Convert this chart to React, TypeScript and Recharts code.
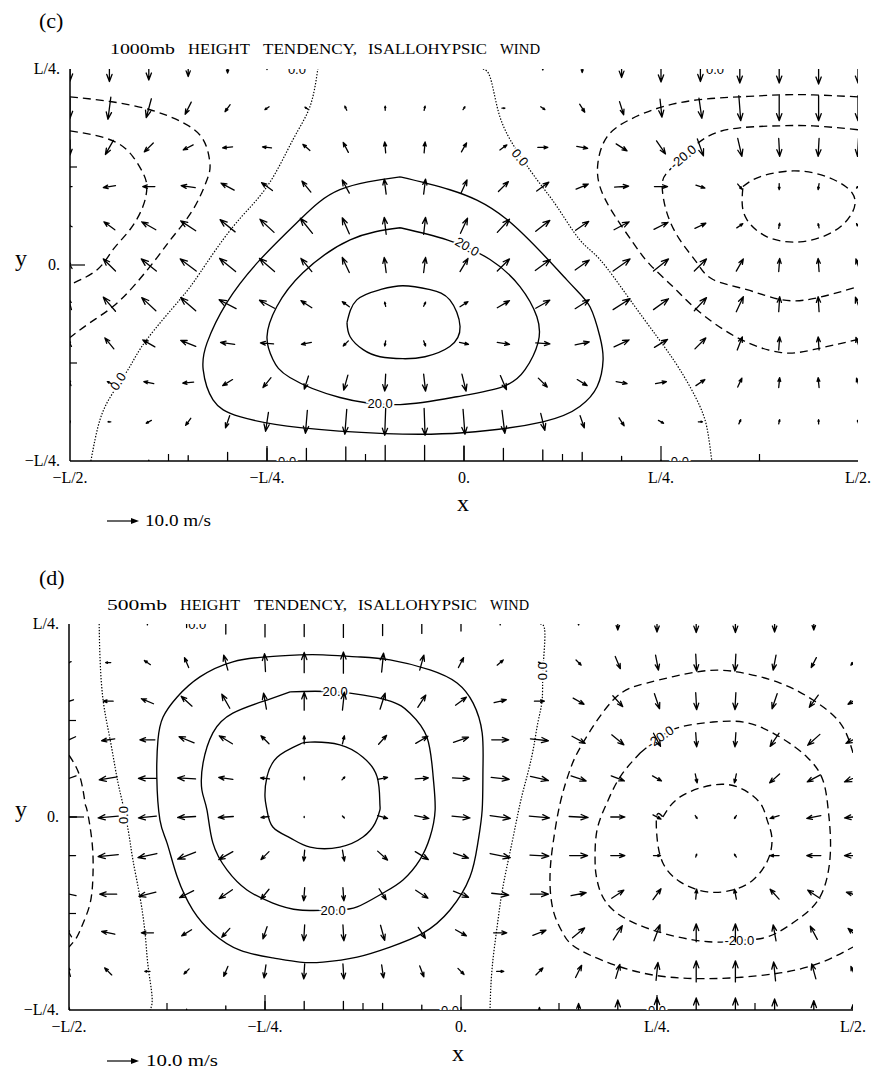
import { ScatterChart, Scatter, XAxis, YAxis } from 'recharts';

// grid in units of L/20: x from -L/2 to L/2, y from L/4 (top row) to -L/4
const X_GRID = [-10, -9, -8, -7, -6, -5, -4, -3, -2, -1, 0, 1, 2, 3, 4, 5, 6, 7, 8, 9, 10];
const Y_GRID = [5, 4, 3, 2, 1, 0, -1, -2, -3, -4, -5];

const X_TICKS = [-10, -7.5, -5, -2.5, 0, 2.5, 5, 7.5, 10];
const X_MAJOR = [-10, -5, 0, 5, 10];
const X_TICK_LABELS = ['\u2212L/2.', '\u2212L/4.', '0.', 'L/4.', 'L/2.'];
const Y_TICKS = [-5, -2.5, 0, 2.5, 5];
const Y_MAJOR = [-5, 0, 5];
const Y_TICK_LABELS = ['\u2212L/4.', '0.', 'L/4.'];

// (c) 1000mb isallohypsic wind, m/s (rows top -> bottom)
const U_C = [
  [0, 0, 0, 0, 0, 0, 0, 0, 0, 0, 0, 0, 0, 0, 0, 0, 0, 0, 0, 0, 0],
  [0, -0.9, -1.6, -1.9, -1.6, -1.3, -0.9, -0.6, 0, 0.3, 0.6, 0.9, 1.3, 1.6, 1.3, 0.6, 0.9, 0.6, 0, 0, 0],
  [0, -2.5, -2.8, -3.1, -3.1, -2.8, -2.2, -1.6, -0.3, 0.3, 1.6, 2.2, 3.1, 3.4, 3.4, 2.8, 1.9, 1.3, 0.3, -0.3, -0.3],
  [-1.3, -3.8, -3.8, -4.4, -4.1, -3.4, -2.8, -2.2, -0.6, 0.6, 1.9, 3.1, 3.8, 3.8, 4.4, 4.1, 2.8, 1.3, 0, -0.3, -0.9],
  [-1.3, -3.4, -4.4, -4.7, -4.7, -4.4, -3.8, -2.2, -0.6, 0.6, 2.2, 3.8, 4.4, 4.1, 4.7, 4.4, 3.4, 1.9, 0.3, -0.3, -0.9],
  [-1.3, -3.8, -4.7, -5.0, -5.0, -4.7, -3.4, -2.2, -0.6, 0.6, 2.5, 3.8, 4.7, 4.4, 5.3, 4.7, 3.8, 2.2, 0.3, -0.3, -1.3],
  [-0.9, -3.8, -4.4, -4.7, -5.3, -4.7, -3.4, -2.2, -0.3, 0.6, 2.5, 3.8, 4.4, 4.4, 5.3, 4.7, 3.8, 2.2, 0.3, -0.3, -1.6],
  [-0.9, -2.8, -3.8, -4.7, -4.4, -4.1, -3.1, -1.6, -0.3, 0.6, 2.8, 3.8, 4.4, 4.4, 4.7, 4.1, 3.4, 1.6, 0.3, -0.3, -1.3],
  [-0.6, -1.3, -3.1, -3.4, -3.1, -2.5, -1.3, -1.3, -0.3, 0.6, 1.3, 1.9, 2.8, 3.1, 3.4, 3.4, 2.8, 1.3, 0.3, -0.3, -0.9],
  [0, -0.9, -1.6, -1.6, -1.3, -0.9, -0.6, -0.6, -0.3, 0.3, 0.6, 0.9, 1.3, 1.3, 1.6, 1.6, 1.3, 0.6, 0.3, 0, -0.3],
  [0, 0, 0, 0, 0, 0, 0, 0, 0, 0, 0, 0, 0, 0, 0, 0, 0, 0, 0, 0, 0],
];
const V_C = [
  [-7.5, -7.8, -6.9, -4.7, -2.5, -0.3, 0, 0, 0, 0, 0, 0, -0.6, -2.2, -5.3, -8.1, -7.8, -8.8, -8.8, -9.4, -8.8],
  [-6.3, -6.9, -5.9, -3.8, -2.2, -0.9, 0.6, 1.3, 1.3, 1.3, 0.9, 0, -0.9, -2.5, -4.1, -5.6, -6.3, -7.8, -7.8, -7.8, -7.8],
  [-4.7, -4.4, -2.8, -1.6, -0.3, 0.3, 1.9, 3.1, 3.4, 3.4, 2.8, 1.6, 0, -0.6, -2.2, -4.1, -5.3, -5.6, -5.6, -5.6, -5.6],
  [0, -0.6, 0, 0.6, 2.2, 2.5, 3.4, 4.1, 4.7, 4.7, 4.1, 3.1, 2.8, 1.6, 0.3, 0, -0.9, -1.6, -1.9, -1.9, -0.9],
  [0.6, 2.5, 2.5, 3.1, 3.8, 4.1, 4.7, 5.0, 5.3, 5.3, 4.7, 4.1, 3.4, 2.8, 2.5, 2.2, 1.6, 1.3, 1.6, 1.3, 1.3],
  [2.2, 3.8, 3.8, 3.8, 4.1, 4.1, 4.1, 4.7, 4.7, 4.7, 4.1, 3.8, 3.4, 3.1, 3.8, 3.8, 3.8, 3.8, 4.1, 4.1, 3.8],
  [3.4, 4.4, 4.1, 4.1, 2.8, 2.5, 2.2, 1.6, 1.3, 1.3, 1.6, 2.2, 2.5, 2.8, 3.4, 3.4, 4.1, 4.7, 4.7, 4.7, 4.4],
  [1.9, 3.4, 2.2, 1.9, 0.6, 0.3, -0.6, -1.6, -1.6, -1.6, -0.6, -0.6, -0.3, 0.9, 2.2, 2.5, 3.4, 4.1, 4.1, 4.1, 3.8],
  [1.9, 0.6, 0.6, -0.3, -1.9, -3.1, -4.1, -4.7, -5.3, -5.3, -5.3, -4.4, -2.8, -1.9, -0.6, 0.6, 1.9, 2.8, 3.1, 3.1, 2.8],
  [0.6, 0, -0.9, -2.2, -3.8, -5.9, -7.2, -7.8, -8.4, -8.4, -7.8, -7.2, -5.3, -3.8, -2.5, -0.9, 0, 1.3, 1.3, 1.3, 0.9],
  [0, 0, -0.6, -3.4, -5.3, -7.8, -7.8, -8.8, -9.7, -9.7, -9.4, -7.8, -6.9, -5.3, -2.8, -0.6, 0, 0, 0, 0, 0],
];

// (d) 500mb isallohypsic wind, m/s
const U_D = [
  [0, 0, 0, 0, 0, 0, 0, 0, 0, 0, 0, 0, 0, 0, 0, 0, 0, 0, 0, 0, 0],
  [-1.3, -1.6, -1.9, -1.3, -1.3, -0.3, 0, 0, 0.6, 1.3, 1.6, 1.9, 0.6, 1.6, 1.6, 0.9, 0.3, -0.3, -0.9, -1.6, -1.3],
  [-2.8, -3.1, -3.8, -3.4, -2.5, -0.9, 0, 0.6, 1.6, 2.5, 3.4, 3.8, 3.1, 3.4, 3.1, 1.6, 0.3, -0.3, -1.6, -2.8, -3.1],
  [-4.1, -4.1, -4.7, -4.7, -4.1, -2.5, 0, 0.6, 2.5, 3.8, 4.7, 5.3, 5.6, 4.1, 3.8, 2.2, 0.3, -0.3, -2.8, -3.8, -4.4],
  [-4.4, -5.6, -5.6, -5.6, -4.4, -2.8, 0, 0.9, 3.1, 4.1, 5.3, 5.6, 5.6, 4.7, 4.1, 2.8, 0.6, -0.6, -3.1, -4.1, -5.3],
  [-4.7, -6.3, -5.6, -5.6, -4.7, -2.5, 0, 0.6, 3.1, 4.4, 5.6, 6.3, 6.3, 5.9, 4.4, 2.5, 0.6, -0.6, -2.8, -4.4, -5.3],
  [-4.1, -6.3, -5.9, -5.6, -4.4, -2.5, -0.3, 0.6, 3.1, 4.1, 4.7, 6.3, 5.9, 5.6, 4.4, 2.2, 0.3, -0.6, -2.8, -4.4, -5.3],
  [-4.4, -5.3, -5.3, -4.4, -4.1, -2.5, -0.3, 0.3, 2.2, 3.8, 4.7, 5.3, 5.6, 4.7, 3.8, 2.5, 0.3, -0.6, -2.8, -3.8, -4.1],
  [-1.6, -4.1, -3.8, -3.1, -2.5, -1.3, -0.3, 0.3, 1.3, 2.2, 3.4, 4.1, 4.1, 3.8, 2.8, 1.9, 0, 0, -0.9, -2.2, -3.1],
  [-0.9, -2.2, -1.6, -1.6, -1.3, -0.6, -0.3, 0.3, 0.6, 1.3, 1.9, 2.2, 2.2, 1.9, 1.3, 0.6, 0, 0, -0.6, -1.3, -1.3],
  [0, 0, 0, 0, 0, 0, 0, 0, 0, 0, 0, 0, 0, 0, 0, 0, 0, 0, 0, 0, 0],
];
const V_D = [
  [0, 0, 0.6, 2.2, 6.3, 8.1, 7.8, 8.4, 7.2, 5.9, 4.4, 0.6, 0, -0.6, -3.8, -5.0, -5.3, -5.3, -5.0, -3.8, 0],
  [-0.6, 0, 1.3, 3.1, 4.7, 5.6, 6.3, 6.6, 5.9, 4.7, 3.1, 1.6, -0.3, -1.6, -3.8, -4.7, -5.3, -5.3, -4.7, -3.1, -1.6],
  [-0.9, 0, 1.6, 3.1, 4.4, 5.0, 5.6, 5.6, 5.0, 3.8, 2.5, 0.9, 0, -1.9, -3.4, -4.7, -5.3, -5.3, -4.7, -3.8, -1.9],
  [-1.9, -0.6, 0, 1.9, 2.5, 2.5, 2.5, 2.5, 2.8, 2.2, 1.6, 0, -0.6, -2.2, -3.1, -4.1, -4.4, -4.4, -4.1, -3.4, -2.2],
  [-1.6, -0.9, 0, 0.3, 0.6, 0.3, 0.9, 0.9, 0.6, 0.3, -0.3, -0.6, -1.3, -1.6, -1.6, -1.6, -2.8, -2.8, -2.8, -2.2, -2.2],
  [0, -0.6, -0.6, -0.3, -0.3, -0.3, -0.3, -0.6, -0.9, -0.9, -0.6, -0.9, -0.6, -0.3, 0, -1.3, -0.9, -0.9, -0.9, -0.9, -0.6],
  [0, -0.6, -1.3, -2.2, -2.5, -2.5, -3.4, -3.4, -2.8, -2.5, -1.6, -1.3, -0.3, 0, 0, 0, 0.9, 0.9, 0, 0, 0],
  [0.9, 0, -1.3, -2.2, -2.8, -3.1, -4.1, -4.1, -3.4, -2.5, -1.9, -0.6, 0, 0.9, 2.5, 3.4, 3.1, 3.1, 3.1, 2.5, 1.3],
  [2.5, 0.9, 0, -1.9, -2.8, -3.8, -5.0, -5.0, -4.7, -3.4, -1.9, 0, 1.6, 3.1, 4.4, 5.0, 5.6, 5.6, 5.0, 4.1, 2.8],
  [3.1, 2.2, 0, -1.6, -3.1, -4.1, -4.7, -4.7, -4.1, -3.4, -1.9, 0, 2.2, 3.8, 4.4, 5.6, 6.6, 6.6, 5.9, 4.7, 3.1],
  [1.6, 0, 0, -0.6, -2.5, -5.3, -5.3, -5.3, -4.1, -3.1, -1.6, 0, 1.6, 4.1, 6.3, 7.8, 7.5, 7.5, 6.9, 5.9, 3.4],
];

// contour lines, [x, y] in L/20 units
const C_POS_OUTER = [[-1.62, 2.25], [-0.36, 1.92], [1.09, 1.16], [2.61, -0.38], [3.2, -1.07], [3.45, -1.83], [3.53, -2.42], [3.38, -3.1], [2.94, -3.61], [2.0, -4.0], [-0.03, -4.28], [-2.0, -4.3], [-4.16, -4.15], [-5.69, -3.87], [-6.37, -3.44], [-6.62, -2.67], [-6.52, -1.98], [-6.02, -0.96], [-5.18, 0.13], [-4.16, 1.16], [-3.15, 1.92], [-1.62, 2.25]];
const C_POS_MID = [[-1.62, 0.95], [-0.43, 0.64], [0.66, 0.14], [1.42, -0.55], [1.85, -1.32], [1.88, -1.98], [1.55, -2.67], [0.99, -3.1], [-0.18, -3.36], [-1.62, -3.56], [-3.15, -3.38], [-4.42, -2.87], [-4.85, -2.41], [-5.0, -1.83], [-4.75, -1.06], [-4.09, -0.2], [-2.89, 0.64], [-1.62, 0.95]];
const C_POS_INNER = [[-2.97, -1.47], [-2.72, -0.89], [-2.13, -0.63], [-1.55, -0.53], [-0.86, -0.63], [-0.36, -0.89], [-0.1, -1.57], [-0.36, -2.08], [-0.99, -2.34], [-1.55, -2.39], [-2.13, -2.34], [-2.56, -2.16], [-2.89, -1.83], [-2.97, -1.47]];
const C_ZERO_LEFT = [[-9.47, -5], [-9.24, -3.95], [-8.91, -3.26], [-8.48, -2.59], [-8.05, -1.9], [-7.21, -0.88], [-6.7, -0.2], [-5.86, 0.98], [-5.0, 2.0], [-4.34, 3.2], [-3.91, 4.04], [-3.71, 5]];
const C_ZERO_RIGHT = [[0.48, 5], [0.66, 4.8], [0.84, 4.04], [1.17, 3.2], [1.85, 2.18], [2.36, 1.49], [2.94, 0.64], [3.45, 0.14], [4.21, -0.88], [4.9, -1.83], [5.48, -2.67], [5.99, -3.61], [6.19, -4.28], [6.29, -5]];
const C_NEG_LEFT_OUTER = [[-10, 4.29], [-8.98, 4.17], [-7.97, 3.96], [-7.13, 3.63], [-6.62, 3.2], [-6.45, 2.61], [-6.52, 2.18], [-6.88, 1.41], [-7.39, 0.72], [-7.79, 0.19], [-8.35, -0.5], [-8.91, -1.06], [-9.49, -1.47], [-10, -1.85]];
const C_NEG_LEFT_INNER = [[-10, 3.42], [-9.42, 3.32], [-8.81, 3.12], [-8.4, 2.76], [-8.15, 2.35], [-8.05, 2.0], [-8.15, 1.49], [-8.48, 0.9], [-8.91, 0.39], [-9.31, -0.12], [-10, -0.5]];
const C_NEG_RIGHT_OUTER = [[10, 4.29], [8.86, 4.34], [8.02, 4.34], [7.0, 4.29], [5.99, 4.22], [5.05, 4.04], [4.21, 3.71], [3.63, 3.27], [3.4, 2.61], [3.45, 2.0], [3.78, 1.33], [4.29, 0.57], [4.72, 0.01], [5.3, -0.55], [5.91, -1.14], [6.93, -1.85], [8.02, -2.23], [8.86, -2.16], [10, -1.9]];
const C_NEG_RIGHT_MID = [[10, 3.45], [8.86, 3.55], [8.02, 3.55], [7.0, 3.5], [6.17, 3.27], [5.56, 2.76], [5.15, 2.35], [5.03, 2.0], [5.15, 1.33], [5.48, 0.64], [5.91, 0.06], [6.32, -0.37], [7.18, -0.63], [8.02, -0.88], [8.86, -0.86], [10, -0.55]];
const C_NEG_RIGHT_INNER = [[7.08, 2.0], [7.51, 2.25], [8.35, 2.4], [9.21, 2.25], [9.85, 1.84], [9.85, 1.33], [9.37, 0.85], [8.53, 0.59], [7.69, 0.72], [7.18, 1.16], [7.06, 1.59], [7.08, 2.0]];

const D_POS_OUTER = [[-4.11, 4.2], [-4.95, 4.15], [-5.82, 4.02], [-6.66, 3.63], [-7.24, 3.11], [-7.6, 2.59], [-7.73, 2.0], [-7.76, 1.04], [-7.68, -0.08], [-7.5, -0.67], [-7.24, -1.55], [-6.84, -2.41], [-6.33, -3.01], [-5.64, -3.45], [-4.8, -3.65], [-4.11, -3.76], [-3.52, -3.76], [-2.65, -3.63], [-1.81, -3.37], [-0.97, -3.01], [-0.28, -2.41], [0.23, -1.55], [0.43, -0.67], [0.54, 0.18], [0.56, 1.22], [0.54, 2.18], [0.31, 2.95], [-0.1, 3.47], [-0.79, 3.81], [-1.81, 4.07], [-2.65, 4.15], [-3.52, 4.2], [-4.11, 4.2]];
const D_POS_MID = [[-4.36, 3.24], [-4.95, 3.03], [-5.82, 2.69], [-6.33, 2.18], [-6.58, 1.4], [-6.61, 0.7], [-6.48, 0.18], [-6.33, -0.67], [-5.97, -1.37], [-5.46, -1.89], [-4.8, -2.23], [-4.11, -2.41], [-3.21, -2.41], [-2.65, -2.33], [-1.99, -1.97], [-1.48, -1.63], [-1.05, -1.11], [-0.79, -0.52], [-0.66, 0.18], [-0.71, 1.04], [-0.87, 2.07], [-1.3, 2.69], [-1.89, 3.03], [-3.21, 3.24], [-4.36, 3.24]];
const D_POS_INNER = [[-4.11, 1.89], [-4.69, 1.55], [-4.95, 1.04], [-5.0, 0.52], [-4.95, 0.18], [-4.8, -0.26], [-4.36, -0.54], [-3.85, -0.78], [-3.09, -0.78], [-2.5, -0.52], [-2.19, -0.16], [-2.07, 0.18], [-2.07, 0.36], [-2.14, 1.04], [-2.5, 1.55], [-3.09, 1.87], [-3.85, 1.94], [-4.11, 1.89]];
const D_ZERO_LEFT = [[-9.23, 5], [-9.21, 4.15], [-9.13, 3.03], [-8.95, 2.0], [-8.78, 1.04], [-8.65, 0.44], [-8.49, -0.34], [-8.37, -1.11], [-8.19, -2.07], [-8.06, -3.01], [-7.98, -3.89], [-7.88, -4.66], [-7.93, -5]];
const D_ZERO_RIGHT = [[2.02, 5], [2.14, 4.77], [2.09, 3.78], [2.07, 3.03], [1.96, 2.44], [1.84, 1.74], [1.68, 1.04], [1.51, 0.36], [1.3, -0.67], [1.07, -1.81], [0.92, -2.85], [0.79, -3.96], [0.74, -5]];
const D_NEG_LEFT = [[-10, 1.6], [-9.72, 1.04], [-9.59, 0.36], [-9.54, 0.18], [-9.41, -0.67], [-9.39, -1.55], [-9.46, -2.23], [-9.64, -2.75], [-9.8, -3.11], [-10, -3.37]];
const D_NEG_OUTER = [[10, 1.66], [9.67, 2.44], [8.98, 3.03], [8.14, 3.47], [7.04, 3.76], [6.02, 3.76], [4.74, 3.47], [3.88, 3.03], [3.11, 1.92], [2.78, 1.22], [2.53, 0.36], [2.35, -0.67], [2.27, -1.55], [2.35, -2.41], [2.6, -3.01], [3.04, -3.45], [4.31, -3.96], [5.59, -4.17], [6.86, -4.17], [8.14, -4.04], [9.16, -3.78], [10, -3.37]];
const D_NEG_MID = [[4.57, 1.66], [5.08, 2.07], [5.59, 2.33], [6.43, 2.46], [7.3, 2.44], [8.14, 2.07], [8.83, 1.55], [9.23, 0.96], [9.36, 0.26], [9.41, -0.26], [9.41, -1.11], [9.16, -2.07], [8.57, -2.67], [7.81, -3.11], [7.12, -3.19], [6.43, -3.24], [5.15, -3.01], [3.88, -2.41], [3.47, -1.63], [3.42, -1.11], [3.47, -0.34], [3.72, 0.36], [4.06, 1.04], [4.57, 1.66]];
const D_NEG_INNER = [[5.15, 0.0], [5.59, 0.52], [6.43, 0.83], [7.12, 0.75], [7.63, 0.36], [7.81, -0.08], [7.93, -0.52], [7.83, -1.11], [7.45, -1.63], [6.94, -1.89], [6.28, -1.94], [5.59, -1.68], [5.15, -1.19], [5.0, -0.52], [5.0, 0.05], [5.15, 0.0]];

// contour labels: x, y, text, rotation
const C_LABELS = [
  { x: -8.78, y: -2.97, t: '0.0', a: -57 },
  { x: 1.42, y: 2.74, t: '0.0', a: 50 },
  { x: -4.24, y: 5, t: '0.0', a: 0 },
  { x: 6.37, y: 5, t: '0.0', a: 0 },
  { x: -4.49, y: -5, t: '0.0', a: 0 },
  { x: 5.48, y: -5, t: '0.0', a: 0 },
  { x: 0.08, y: 0.47, t: '20.0', a: 30 },
  { x: -2.13, y: -3.54, t: '20.0', a: 0 },
  { x: 5.56, y: 2.76, t: '-20.0', a: -40 },
];
const D_LABELS = [
  { x: -3.21, y: 3.24, t: '20.0', a: 0 },
  { x: -3.26, y: -2.41, t: '20.0', a: 0 },
  { x: 5.08, y: 2.07, t: '-20.0', a: -35 },
  { x: 7.1, y: -3.19, t: '-20.0', a: 0 },
  { x: -8.6, y: 0.05, t: '0.0', a: -90 },
  { x: 2.09, y: 3.78, t: '0.0', a: -90 },
  { x: -6.73, y: 5, t: '0.0', a: 0 },
  { x: -0.28, y: -5, t: '0.0', a: 0 },
  { x: 5.0, y: -5, t: '0.0', a: 0 },
];

const PX_PER_MS = 3.2; // 10 m/s reference arrow = 32 px
const SERIF = '"Liberation Serif", "Times New Roman", serif';
const SANS = '"Liberation Sans", Arial, sans-serif';

const SOLID = { stroke: '#000', strokeWidth: 1.35, fill: 'none' };
const DASHED = { stroke: '#000', strokeWidth: 1.35, strokeDasharray: '8 5', fill: 'none' };
const DOTTED = { stroke: '#000', strokeWidth: 1.2, strokeDasharray: '1.4 1.6', fill: 'none' };

const toPts = (arr: number[][]) => arr.map(([x, y]) => ({ x, y }));
const toArrows = (U: number[][], V: number[][]) =>
  Y_GRID.flatMap((y, j) => X_GRID.map((x, i) => ({ x, y, u: U[j][i], v: V[j][i] })));

const Empty = () => <g />;

const ArrowShape = (p: any) => {
  const { cx, cy, payload } = p;
  const dx = payload.u * PX_PER_MS;
  const dy = -payload.v * PX_PER_MS;
  const len = Math.hypot(dx, dy);
  if (len < 0.6) return <g />;
  const x1 = cx - dx / 2, y1 = cy - dy / 2, x2 = cx + dx / 2, y2 = cy + dy / 2;
  const bx = -dx / len, by = -dy / len;
  const h = Math.min(7.5, len * 0.4);
  const c = Math.cos(0.36), s = Math.sin(0.36);
  const hx1 = x2 + h * (bx * c - by * s), hy1 = y2 + h * (bx * s + by * c);
  const hx2 = x2 + h * (bx * c + by * s), hy2 = y2 + h * (-bx * s + by * c);
  return (
    <path
      d={`M${x1},${y1}L${x2},${y2}M${hx1},${hy1}L${x2},${y2}L${hx2},${hy2}`}
      stroke="#000" strokeWidth={1.3} fill="none" strokeLinecap="round" strokeLinejoin="round"
    />
  );
};

const LabelShape = (p: any) => {
  const { cx, cy, payload } = p;
  return (
    <text
      x={cx} y={cy} dy={4.5} textAnchor="middle"
      transform={`rotate(${payload.a} ${cx} ${cy})`}
      fontFamily={SANS} fontSize={13} fill="#000"
      stroke="#fff" strokeWidth={4} paintOrder="stroke"
    >
      {payload.t}
    </text>
  );
};

const bottomTick = (p: any) => {
  const v = p.payload.value;
  const k = X_MAJOR.indexOf(v);
  return (
    <g>
      {Math.abs(v) < 10 && <line x1={p.x} x2={p.x} y1={p.y} y2={p.y - (k >= 0 ? 15 : 7)} stroke="#000" strokeWidth={1.2} />}
      {k >= 0 && (
        <text x={p.x} y={p.y + 22} textAnchor="middle" fontFamily={SERIF} fontSize={16} fill="#000">
          {X_TICK_LABELS[k]}
        </text>
      )}
    </g>
  );
};
const topTick = (p: any) => {
  const v = p.payload.value;
  if (Math.abs(v) >= 10) return <g />;
  const major = X_MAJOR.includes(v);
  return <line x1={p.x} x2={p.x} y1={p.y} y2={p.y + (major ? 15 : 7)} stroke="#000" strokeWidth={1.2} />;
};
const leftTick = (p: any) => {
  const v = p.payload.value;
  const k = Y_MAJOR.indexOf(v);
  return (
    <g>
      {Math.abs(v) < 5 && <line x1={p.x} x2={p.x + (k >= 0 ? 15 : 7)} y1={p.y} y2={p.y} stroke="#000" strokeWidth={1.2} />}
      {k >= 0 && (
        <text x={p.x - 10} y={p.y + 5} textAnchor="end" fontFamily={SERIF} fontSize={16} fill="#000">
          {Y_TICK_LABELS[k]}
        </text>
      )}
    </g>
  );
};
const rightTick = (p: any) => {
  const v = p.payload.value;
  if (Math.abs(v) >= 5) return <g />;
  const major = Y_MAJOR.includes(v);
  return <line x1={p.x} x2={p.x - (major ? 15 : 7)} y1={p.y} y2={p.y} stroke="#000" strokeWidth={1.2} />;
};

const AXIS_LINE = { stroke: '#000', strokeWidth: 1.5 };

interface Contour { pts: number[][]; style: any }

const Panel = ({ top, height, margin, yWidth, U, V, contours, labels }: {
  top: number; height: number; margin: any; yWidth: number;
  U: number[][]; V: number[][]; contours: Contour[]; labels: any[];
}) => (
  <div style={{ position: 'absolute', left: 0, top }}>
    <ScatterChart width={872} height={height} margin={margin}>
      <XAxis type="number" dataKey="x" domain={[-10, 10]} ticks={X_TICKS} interval={0}
        tickSize={0} tickMargin={0} height={30} axisLine={AXIS_LINE} tickLine={false} tick={bottomTick} allowDataOverflow />
      <XAxis xAxisId="top" orientation="top" type="number" dataKey="x" domain={[-10, 10]} ticks={X_TICKS} interval={0}
        tickSize={0} tickMargin={0} height={0} axisLine={AXIS_LINE} tickLine={false} tick={topTick} allowDataOverflow />
      <YAxis type="number" dataKey="y" domain={[-5, 5]} ticks={Y_TICKS} interval={0}
        tickSize={0} tickMargin={0} width={yWidth} axisLine={AXIS_LINE} tickLine={false} tick={leftTick} allowDataOverflow />
      <YAxis yAxisId="right" orientation="right" type="number" dataKey="y" domain={[-5, 5]} ticks={Y_TICKS} interval={0}
        tickSize={0} tickMargin={0} width={0} axisLine={AXIS_LINE} tickLine={false} tick={rightTick} allowDataOverflow />
      {contours.map((c, k) => (
        <Scatter key={k} data={toPts(c.pts)} line={c.style} lineType="joint" lineJointType="natural"
          shape={Empty} isAnimationActive={false} />
      ))}
      <Scatter data={labels} shape={LabelShape} isAnimationActive={false} />
      <Scatter data={toArrows(U, V)} shape={ArrowShape} isAnimationActive={false} />
    </ScatterChart>
  </div>
);

const CONTOURS_C: Contour[] = [
  { pts: C_POS_OUTER, style: SOLID },
  { pts: C_POS_MID, style: SOLID },
  { pts: C_POS_INNER, style: SOLID },
  { pts: C_ZERO_LEFT, style: DOTTED },
  { pts: C_ZERO_RIGHT, style: DOTTED },
  { pts: C_NEG_LEFT_OUTER, style: DASHED },
  { pts: C_NEG_LEFT_INNER, style: DASHED },
  { pts: C_NEG_RIGHT_OUTER, style: DASHED },
  { pts: C_NEG_RIGHT_MID, style: DASHED },
  { pts: C_NEG_RIGHT_INNER, style: DASHED },
];
const CONTOURS_D: Contour[] = [
  { pts: D_POS_OUTER, style: SOLID },
  { pts: D_POS_MID, style: SOLID },
  { pts: D_POS_INNER, style: SOLID },
  { pts: D_ZERO_LEFT, style: DOTTED },
  { pts: D_ZERO_RIGHT, style: DOTTED },
  { pts: D_NEG_LEFT, style: DASHED },
  { pts: D_NEG_OUTER, style: DASHED },
  { pts: D_NEG_MID, style: DASHED },
  { pts: D_NEG_INNER, style: DASHED },
];

// words of the panel headings with their spans
const HEAD_C = [['1000mb', 110, 65], ['HEIGHT', 188, 62], ['TENDENCY,', 263, 94], ['ISALLOHYPSIC', 368, 119], ['WIND', 500, 40]];
const HEAD_D = [['500mb', 107, 60], ['HEIGHT', 180, 60], ['TENDENCY,', 254, 93], ['ISALLOHYPSIC', 358, 119], ['WIND', 490, 39]];

const Overlay = () => (
  <svg width={872} height={1070} style={{ position: 'absolute', left: 0, top: 0, pointerEvents: 'none' }}>
    <text x={39} y={28} fontFamily={SERIF} fontSize={22} fill="#000">(c)</text>
    {HEAD_C.map(([w, x, l]) => (
      <text key={w as string} x={x as number} y={54} fontFamily={SERIF} fontSize={15} textLength={l as number} lengthAdjust="spacingAndGlyphs" fill="#000">{w}</text>
    ))}
    <text x={457} y={511} fontFamily={SERIF} fontSize={24} fill="#000">x</text>
    <text x={15} y={266} fontFamily={SERIF} fontSize={24} fill="#000">y</text>
    <line x1={107} y1={521} x2={133} y2={521} stroke="#000" strokeWidth={1.2} />
    <path d="M139,521 L131,518 L131,524 Z" fill="#000" />
    <text x={145} y={526} fontFamily={SERIF} fontSize={16} textLength={66} lengthAdjust="spacingAndGlyphs" fill="#000">10.0 m/s</text>

    <text x={39} y={585} fontFamily={SERIF} fontSize={22} fill="#000">(d)</text>
    {HEAD_D.map(([w, x, l]) => (
      <text key={w as string} x={x as number} y={610} fontFamily={SERIF} fontSize={15} textLength={l as number} lengthAdjust="spacingAndGlyphs" fill="#000">{w}</text>
    ))}
    <text x={452} y={1061} fontFamily={SERIF} fontSize={24} fill="#000">x</text>
    <text x={15} y={817} fontFamily={SERIF} fontSize={24} fill="#000">y</text>
    <line x1={107} y1={1061} x2={133} y2={1061} stroke="#000" strokeWidth={1.2} />
    <path d="M139,1061 L131,1058 L131,1064 Z" fill="#000" />
    <text x={146} y={1066} fontFamily={SERIF} fontSize={16} textLength={72} lengthAdjust="spacingAndGlyphs" fill="#000">10.0 m/s</text>
  </svg>
);

export default function App() {
  return (
    <div style={{ position: 'absolute', left: 0, top: 0, width: 872, height: 1070, background: '#fff' }}>
      <Panel top={0} height={520} margin={{ top: 69, right: 14, bottom: 29, left: 8 }} yWidth={62}
        U={U_C} V={V_C} contours={CONTOURS_C} labels={C_LABELS} />
      <Panel top={540} height={530} margin={{ top: 84, right: 19, bottom: 30, left: 8 }} yWidth={61}
        U={U_D} V={V_D} contours={CONTOURS_D} labels={D_LABELS} />
      <Overlay />
    </div>
  );
}
